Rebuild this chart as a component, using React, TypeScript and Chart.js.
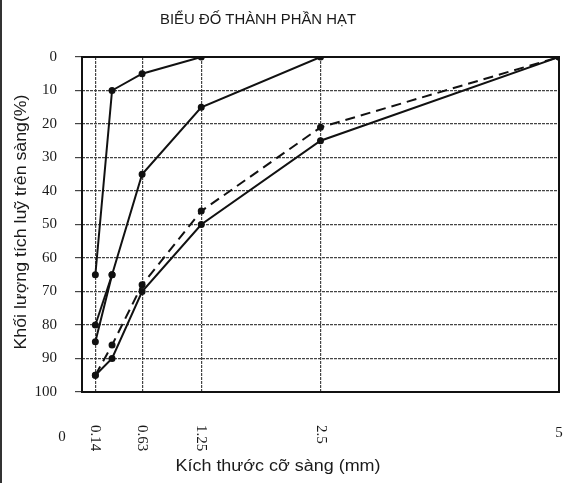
import React, { useEffect, useRef } from "react";
import { Chart, registerables } from "chart.js";

Chart.register(...registerables);

// ---- Data ----
const chartTitle = "BIỂU ĐỐ THÀNH PHẦN HẠT";
const xTitle = "Kích thước cỡ sàng (mm)";
const yTitle = "Khối lượng tích luỹ trên sàng(%)";

const sieveSizes = [0.14, 0.315, 0.63, 1.25, 2.5, 5];
const xTickValues = [0, 0.14, 0.63, 1.25, 2.5, 5];
const xTickLabels = ["0", "0.14", "0.63", "1.25", "2.5", "5"];
const yTickValues = [0, 10, 20, 30, 40, 50, 60, 70, 80, 90, 100];

const curve1X = [0.14, 0.315, 0.63, 1.25];
const curve1Y = [65, 10, 5, 0];
const curve2X = [0.14, 0.315, 0.63, 1.25, 2.5];
const curve2Y = [85, 65, 35, 15, 0];
const curve2bX = [0.14, 0.315];
const curve2bY = [80, 65];
const dashedY = [95, 86, 68, 46, 21, 0];
const sampleY = [95, 90, 70, 50, 25, 0];

const toPoints = (xs: number[], ys: number[]) => xs.map((x, i) => ({ x, y: ys[i] }));

const SANS = '"Liberation Sans Narrow", "Liberation Sans", Arial, sans-serif';
const SERIF = '"Liberation Serif", "Times New Roman", serif';

function fitText(
  ctx: CanvasRenderingContext2D,
  text: string,
  x: number,
  y: number,
  width: number,
  font: string,
  angle: number
) {
  ctx.save();
  ctx.font = font;
  const w = ctx.measureText(text).width;
  ctx.translate(x, y);
  ctx.rotate(angle);
  ctx.scale(width / w, 1);
  ctx.textAlign = "center";
  ctx.textBaseline = "middle";
  ctx.fillStyle = "#1a1a1a";
  ctx.fillText(text, 0, 0);
  ctx.restore();
}

const decorPlugin = {
  id: "decor",
  beforeDraw(chart: any) {
    const ctx = chart.ctx as CanvasRenderingContext2D;
    ctx.save();
    ctx.fillStyle = "#ffffff";
    ctx.fillRect(0, 0, chart.width, chart.height);
    ctx.strokeStyle = "#333";
    ctx.lineWidth = 2;
    ctx.beginPath();
    ctx.moveTo(1, 0);
    ctx.lineTo(1, chart.height);
    ctx.stroke();
    ctx.restore();
  },
  beforeDatasetsDraw(chart: any) {
    const ctx = chart.ctx as CanvasRenderingContext2D;
    const a = chart.chartArea;
    ctx.save();
    ctx.strokeStyle = "#111";
    ctx.lineWidth = 2;
    ctx.strokeRect(a.left, a.top, a.right - a.left, a.bottom - a.top);
    ctx.restore();
  },
  afterDraw(chart: any) {
    const ctx = chart.ctx as CanvasRenderingContext2D;
    const xs = chart.scales.x;
    const a = chart.chartArea;
    fitText(ctx, chartTitle, 258, 20, 196, `14px ${SANS}`, 0);
    fitText(ctx, xTitle, 278, 467, 205, `16px ${SANS}`, 0);
    fitText(ctx, yTitle, 22, 222, 255, `16px ${SANS}`, -Math.PI / 2);

    ctx.save();
    ctx.font = `15px ${SERIF}`;
    ctx.fillStyle = "#1a1a1a";
    xTickValues.forEach((v, i) => {
      const px = xs.getPixelForValue(v);
      const label = xTickLabels[i];
      if (i === 0) {
        ctx.textAlign = "center";
        ctx.textBaseline = "middle";
        ctx.fillText(label, px - 20, a.bottom + 45);
      } else if (i === xTickValues.length - 1) {
        ctx.textAlign = "center";
        ctx.textBaseline = "middle";
        ctx.fillText(label, px, a.bottom + 41);
      } else {
        ctx.save();
        ctx.translate(px, a.bottom + 33);
        ctx.rotate(Math.PI / 2);
        ctx.textAlign = "left";
        ctx.textBaseline = "middle";
        ctx.fillText(label, 0, 0);
        ctx.restore();
      }
    });
    ctx.restore();
  },
};

export default function App() {
  const ref = useRef<HTMLCanvasElement | null>(null);

  useEffect(() => {
    if (!ref.current) return;
    const lineBase = {
      borderColor: "#111",
      backgroundColor: "#111",
      borderWidth: 2,
      pointRadius: 2.5,
      pointBackgroundColor: "#111",
      pointBorderColor: "#111",
      tension: 0,
      fill: false,
    };
    const chart = new Chart(ref.current, {
      type: "scatter",
      data: {
        datasets: [
          { ...lineBase, label: "1", data: toPoints(curve1X, curve1Y), showLine: true },
          { ...lineBase, label: "2", data: toPoints(curve2X, curve2Y), showLine: true },
          { ...lineBase, label: "2b", data: toPoints(curve2bX, curve2bY), showLine: true },
          {
            ...lineBase,
            label: "3",
            data: toPoints(sieveSizes, dashedY),
            showLine: true,
            borderDash: [10, 6],
          },
          { ...lineBase, label: "4", data: toPoints(sieveSizes, sampleY), showLine: true },
        ],
      },
      options: {
        animation: false,
        responsive: false,
        layout: { padding: { left: 0, top: 57, right: 14, bottom: 91 } },
        plugins: {
          legend: { display: false },
          tooltip: { enabled: false },
          title: { display: false },
        },
        scales: {
          x: {
            type: "linear",
            min: 0,
            max: 5,
            afterBuildTicks: (s: any) => {
              s.ticks = xTickValues.map((v) => ({ value: v }));
            },
            afterFit: (s: any) => {
              s.height = 0;
            },
            ticks: { display: false },
            grid: {
              drawTicks: false,
              color: (c: any) =>
                c.tick && (c.tick.value === 0 || c.tick.value === 5) ? "rgba(0,0,0,0)" : "#444",
              lineWidth: 1.2,
            },
            border: { display: false, dash: [3, 1] },
          },
          y: {
            type: "linear",
            min: 0,
            max: 100,
            reverse: true,
            afterBuildTicks: (s: any) => {
              s.ticks = yTickValues.map((v) => ({ value: v }));
            },
            afterFit: (s: any) => {
              s.width = 82;
            },
            ticks: {
              padding: 18,
              color: "#1a1a1a",
              font: { family: SERIF, size: 15 },
            },
            grid: {
              drawTicks: true,
              tickLength: 7,
              color: "#444",
              lineWidth: 1.2,
            },
            border: { display: false, dash: [3, 1] },
          },
        },
      },
      plugins: [decorPlugin],
    });
    return () => chart.destroy();
  }, []);

  return (
    <div style={{ position: "fixed", left: 0, top: 0, width: 573, height: 483, background: "#fff" }}>
      <canvas ref={ref} width={573} height={483} style={{ width: 573, height: 483 }} />
    </div>
  );
}
